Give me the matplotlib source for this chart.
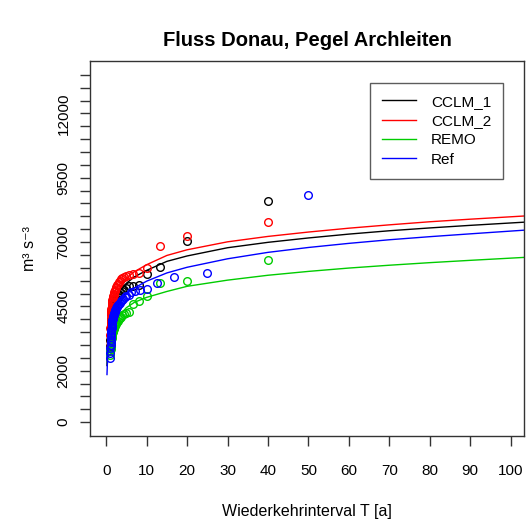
import matplotlib
matplotlib.use("Agg")
import matplotlib.pyplot as plt

plt.rcParams['font.family'] = ['Liberation Sans', 'DejaVu Sans']

curve_T = [0.2, 0.5, 1, 2, 3, 5, 7, 10, 15, 20, 30, 40, 50, 60, 70, 80, 90, 104]
cclm1_fit = [2200, 3500, 4150, 4700, 5050, 5400, 5650, 5900, 6250, 6460, 6780, 6990, 7160, 7310, 7440, 7550, 7650, 7780]
cclm2_fit = [2600, 3800, 4450, 5050, 5320, 5600, 5850, 6120, 6480, 6700, 7010, 7220, 7390, 7540, 7670, 7790, 7890, 8020]
remo_T = [0.3, 0.5, 1, 2, 3, 5, 7, 10, 15, 20, 30, 40, 50, 60, 70, 80, 90, 104]
remo_fit = [2300, 2700, 3400, 3850, 4100, 4450, 4660, 4850, 5080, 5280, 5520, 5710, 5860, 5990, 6100, 6200, 6290, 6410]
ref_fit = [1850, 3200, 3850, 4330, 4650, 5000, 5220, 5480, 5800, 6020, 6350, 6600, 6790, 6950, 7090, 7210, 7320, 7470]

# observed / simulated annual maxima with their return periods
model_T = [40, 20, 13.3, 10, 8, 6.67, 5.71, 5, 4.44, 4, 3.64, 3.33, 3.08, 2.86, 2.67, 2.5,
           2.35, 2.22, 2.11, 2.0, 1.9, 1.82, 1.74, 1.67, 1.6, 1.54, 1.48, 1.43, 1.38, 1.33,
           1.29, 1.25, 1.21, 1.18, 1.14, 1.11, 1.08, 1.05, 1.03]
cclm1_pts = [8600, 7040, 6040, 5740, 5350, 5310, 5300, 5200, 5150, 5080, 5020, 4950, 4900, 4850,
             4800, 4760, 4710, 4660, 4620, 4570, 4520, 4470, 4420, 4370, 4320, 4260, 4200, 4140,
             4080, 4010, 3940, 3860, 3780, 3690, 3590, 3480, 3350, 3200, 2950]
cclm2_pts = [7785, 7240, 6850, 6000, 5800, 5750, 5720, 5680, 5640, 5600, 5550, 5500, 5430, 5380,
             5330, 5270, 5210, 5150, 5100, 5050, 5000, 4950, 4900, 4850, 4790, 4730, 4670, 4610,
             4550, 4480, 4410, 4330, 4250, 4160, 4060, 3950, 3820, 3650, 3400]
remo_pts = [6300, 5480, 5400, 4900, 4700, 4600, 4300, 4250, 4200, 4150, 4100, 4050, 4000, 3950,
            3900, 3860, 3820, 3780, 3740, 3700, 3660, 3620, 3580, 3540, 3500, 3460, 3420, 3380,
            3330, 3280, 3230, 3180, 3120, 3060, 3000, 2930, 2850, 2750, 2600]
ref_T = [50, 25, 16.7, 12.5, 10, 8.33, 7.14, 6.25, 5.56, 5.0, 4.55, 4.17, 3.85, 3.57, 3.33, 3.13,
         2.94, 2.78, 2.63, 2.5, 2.38, 2.27, 2.17, 2.08, 2.0, 1.92, 1.85, 1.79, 1.72, 1.67, 1.61,
         1.56, 1.52, 1.47, 1.43, 1.39, 1.35, 1.32, 1.28, 1.25, 1.22, 1.19, 1.16, 1.14, 1.11,
         1.09, 1.06, 1.04, 1.02]
ref_pts = [8830, 5810, 5640, 5420, 5180, 5150, 5100, 5050, 4950, 4900, 4860, 4800, 4760, 4700,
           4650, 4600, 4560, 4520, 4480, 4440, 4400, 4360, 4330, 4290, 4250, 4210, 4170, 4130,
           4090, 4050, 4000, 3960, 3920, 3870, 3820, 3770, 3720, 3660, 3600, 3530, 3460, 3380,
           3300, 3210, 3110, 3000, 2870, 2700, 2480]

series = [
    ('CCLM_1', 'black', curve_T, cclm1_fit, model_T, cclm1_pts),
    ('CCLM_2', '#ff0000', curve_T, cclm2_fit, model_T, cclm2_pts),
    ('REMO', '#00cc00', remo_T, remo_fit, model_T, remo_pts),
    ('Ref', '#0000ff', curve_T, ref_fit, ref_T, ref_pts),
]

fig = plt.figure(figsize=(5.26, 5.2), dpi=100)
ax = fig.add_axes([0.1711, 0.1615, 0.8251, 0.7212])

for name, col, ct, cv, pt, pv in series:
    ax.plot(ct, cv, color=col, lw=1.0, label=name)
    ax.plot(pt, pv, 'o', mfc='none', mec=col, mew=1.0, ms=5.5)

ax.set_xlim(-4, 103.3)
ax.set_ylim(-540, 14040)
ax.set_xticks(range(0, 101, 10))
yt = list(range(0, 13501, 500))
ax.set_yticks(yt)
shown = [0, 2000, 4500, 7000, 9500, 12000]
ax.set_yticklabels([str(v) if v in shown else '' for v in yt], rotation=90, va='center')
ax.tick_params(axis='both', length=7, width=1, labelsize=11, color='#333333')
ax.tick_params(axis='x', pad=13)
ax.tick_params(axis='y', pad=7)
for s in ax.spines.values():
    s.set_linewidth(1.0)
    s.set_color('#333333')

ax.set_xlabel('Wiederkehrinterval T [a]', fontsize=11.5, labelpad=19)
ax.set_ylabel('m³ s⁻³', fontsize=11.5, labelpad=14)
fig.text(0.584, 0.923, 'Fluss Donau, Pegel Archleiten', ha='center', va='center',
         fontsize=14.5, fontweight='bold')

leg = ax.legend(loc='upper right', bbox_to_anchor=(0.97, 0.963), fontsize=11,
                frameon=True, fancybox=False, borderpad=0.8, handlelength=2.2,
                labelspacing=0.35, handletextpad=1.0)
leg.get_frame().set_edgecolor('#333333')
leg.get_frame().set_linewidth(1.0)

fig.savefig('out.png', dpi=100)
